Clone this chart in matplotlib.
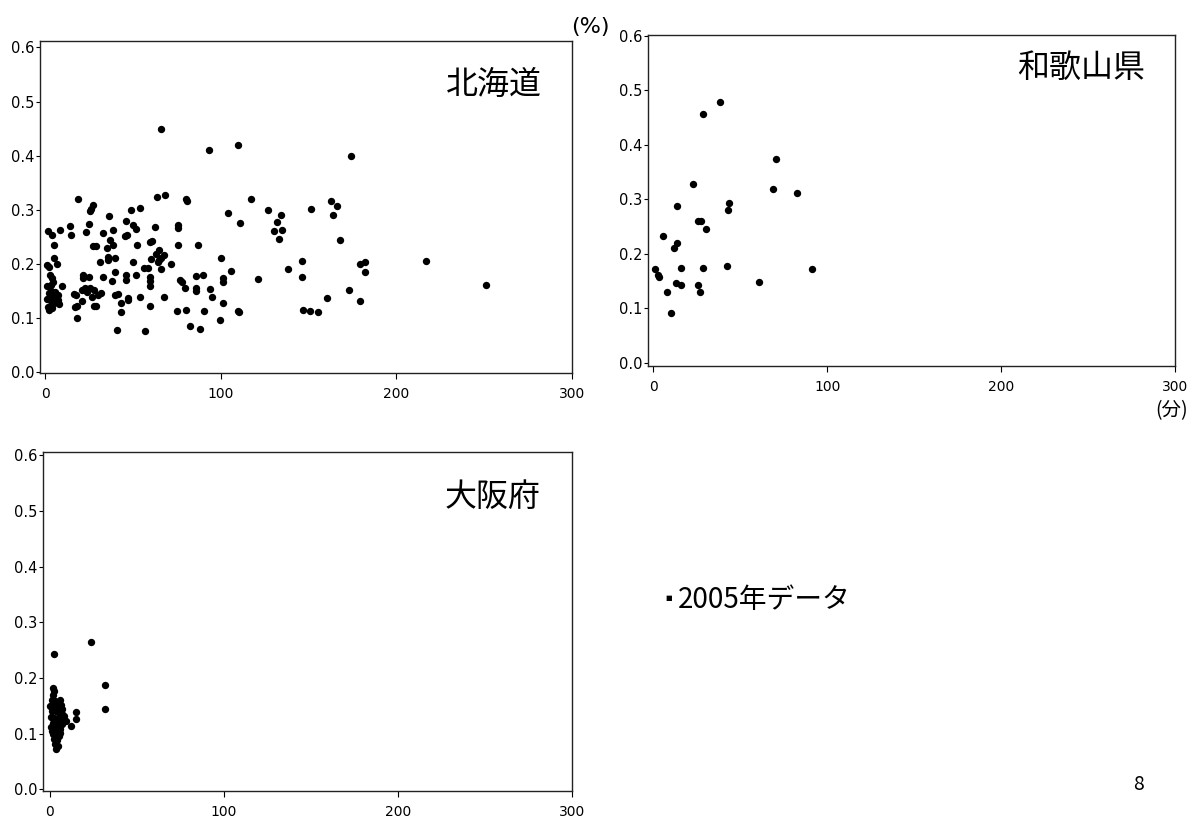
import numpy as np
import matplotlib
matplotlib.use("Agg")
import matplotlib.pyplot as plt

plt.rcParams['font.family'] = ['DejaVu Sans', 'Noto Sans CJK JP']
jp_font = ['Noto Sans CJK JP', 'DejaVu Sans']

# %% data (x: minutes, y: %)
hokkaido_x = [66, 93, 110, 18.5, 63.6, 68.3, 80, 81, 117, 127, 134, 132, 130, 135, 133,
              138.5, 121, 111, 104, 106, 100, 101, 101, 101, 99.4, 109.5, 110.5, 87, 90, 86,
              86, 86, 94, 95, 90.5, 82.6, 88, 80, 75, 79.6, 77, 78, 75.5, 75.5, 75.5,
              71.5, 67.5, 66, 65, 64.7, 64, 65.7, 63, 61, 59.8, 62.5, 60, 58.5, 56, 59.6,
              59.6, 59.6, 59.8, 57, 67.7, 54, 49, 50, 51.5, 52.5, 50, 51.5, 53.8, 46.6, 45.5,
              45.7, 45.7, 45.7, 47, 47, 43, 43, 41, 41.5, 39.6, 40, 38, 39.6, 38.3, 35,
              36.8, 38.3, 36.4, 35.7, 35.7, 32.8, 33, 31, 31.5, 30, 29, 27.7, 29, 27.4, 26.4,
              25.7, 27, 26.3, 25, 23, 24.7, 21.7, 21.3, 22.6, 21, 20.8, 24, 25.5, 27.5, 16.6,
              17.4, 18.3, 17, 18.3, 14.3, 14.7, 8.5, 9.4, 8, 1.5, 3.8, 4.7, 5, 6.8, 1.1,
              2, 2.8, 3.8, 4.3, 1, 2, 2.5, 3, 1.5, 4, 5, 4.6, 6, 7, 7.5,
              3.5, 0.8, 2.2, 5.5, 3, 174, 162.8, 166, 164, 168, 151.6, 146, 146, 216.8, 251,
              179, 182, 182, 173, 179, 160.6, 147, 151, 155.6]
hokkaido_y = [0.45, 0.41, 0.42, 0.32, 0.324, 0.327, 0.32, 0.316, 0.32, 0.30, 0.29, 0.278, 0.26, 0.262, 0.245,
              0.19, 0.172, 0.276, 0.294, 0.187, 0.21, 0.173, 0.167, 0.128, 0.096, 0.113, 0.111, 0.235, 0.179, 0.177,
              0.156, 0.150, 0.153, 0.139, 0.113, 0.085, 0.079, 0.114, 0.113, 0.156, 0.170, 0.167, 0.271, 0.266, 0.234,
              0.200, 0.216, 0.211, 0.226, 0.207, 0.203, 0.190, 0.218, 0.243, 0.240, 0.268, 0.208, 0.192, 0.192, 0.176,
              0.168, 0.158, 0.122, 0.076, 0.139, 0.303, 0.299, 0.271, 0.265, 0.234, 0.204, 0.179, 0.139, 0.254, 0.252,
              0.280, 0.179, 0.170, 0.137, 0.133, 0.127, 0.111, 0.077, 0.145, 0.143, 0.184, 0.169, 0.210, 0.234, 0.230,
              0.244, 0.262, 0.289, 0.207, 0.213, 0.256, 0.176, 0.203, 0.146, 0.142, 0.122, 0.121, 0.232, 0.232, 0.139,
              0.297, 0.309, 0.302, 0.274, 0.258, 0.176, 0.179, 0.173, 0.155, 0.152, 0.131, 0.148, 0.156, 0.152, 0.145,
              0.142, 0.122, 0.120, 0.100, 0.269, 0.254, 0.262, 0.158, 0.126, 0.260, 0.254, 0.235, 0.210, 0.200, 0.198,
              0.194, 0.179, 0.173, 0.167, 0.158, 0.146, 0.134, 0.124, 0.120, 0.118, 0.128, 0.138, 0.136, 0.133, 0.142,
              0.150, 0.135, 0.115, 0.148, 0.160, 0.40, 0.317, 0.307, 0.29, 0.244, 0.302, 0.205, 0.176, 0.206, 0.16,
              0.200, 0.204, 0.184, 0.152, 0.132, 0.136, 0.115, 0.112, 0.110]

wakayama_x = [38.5, 28.8, 70.7, 23, 68.6, 82.9, 43.8, 43, 13.5, 26, 27.2, 30.3, 5.5, 13.7,
              11.8, 0.8, 3, 3.2, 16, 28.8, 42.3, 91.2, 61, 13, 16, 25.7, 26.9, 8.2, 10]
wakayama_y = [0.478, 0.457, 0.374, 0.328, 0.319, 0.312, 0.293, 0.28, 0.287, 0.259, 0.26, 0.245, 0.232, 0.22,
              0.211, 0.171, 0.161, 0.158, 0.174, 0.174, 0.177, 0.172, 0.148, 0.146, 0.143, 0.142, 0.13, 0.13, 0.091]

osaka_x = [23.7, 2.3, 31.4, 31.4, 15, 15, 12.1, 9.2,
           1.5, 2.3, 2.0, 1.0, 3.0, 5.7, 6.5, 4.5, 7.0, 2.0, 1.0, 3.5, 5.0, 6.8, 8.0, 0.5,
           2.5, 4.2, 6.0, 1.5, 3.3, 5.2, 7.2, 0.8, 2.6, 4.3, 6.0, 1.8, 3.5, 5.0, 2.5, 4.0,
           3.0, 4.5, 3.5, 6.5, 7.5, 0.3, 1.2, 5.5]
osaka_y = [0.265, 0.244, 0.187, 0.144, 0.139, 0.126, 0.114, 0.123,
           0.182, 0.176, 0.170, 0.160, 0.158, 0.160, 0.152, 0.150, 0.145, 0.148, 0.140, 0.140, 0.138, 0.135, 0.132, 0.130,
           0.128, 0.127, 0.125, 0.120, 0.118, 0.115, 0.118, 0.112, 0.108, 0.105, 0.108, 0.100, 0.097, 0.095, 0.090, 0.088,
           0.082, 0.078, 0.072, 0.128, 0.122, 0.150, 0.105, 0.102]

x_ticks = [0, 100, 200, 300]
y_ticks = [0.0, 0.1, 0.2, 0.3, 0.4, 0.5, 0.6]

# name, x, y, frame (l, t, r, b) in px, xlim, ylim, label pos (axes frac)
panels = [
    ("北海道", hokkaido_x, hokkaido_y, (40, 41, 572, 373), (-3, 300), (-0.002, 0.612), (0.943, 0.867)),
    ("和歌山県", wakayama_x, wakayama_y, (648, 35, 1175, 366), (-3, 300), (-0.006, 0.601), (0.943, 0.90)),
    ("大阪府", osaka_x, osaka_y, (43, 452, 572, 791), (-4, 300), (-0.003, 0.606), (0.94, 0.867)),
]

W, H = 1199, 819
fig = plt.figure(figsize=(W / 100, H / 100), dpi=100)

for name, xs, ys, (l, t, r, b), xlim, ylim, (tx, ty) in panels:
    ax = fig.add_axes([l / W, 1 - b / H, (r - l) / W, (b - t) / H])
    ax.scatter(xs, ys, s=28, color='black', linewidths=0, zorder=3)
    ax.set_xlim(*xlim)
    ax.set_ylim(*ylim)
    ax.set_xticks(x_ticks)
    ax.set_yticks(y_ticks)
    ax.set_yticklabels([f"{v:.1f}" for v in y_ticks])
    ax.tick_params(axis='y', direction='out', length=3, width=0.8, pad=1, labelsize=10.5)
    ax.tick_params(axis='x', direction='out', length=4, width=0.8, pad=6, labelsize=10)
    for sp in ax.spines.values():
        sp.set_linewidth(1.0)
        sp.set_color('#222222')
    ax.text(tx, ty, name, transform=ax.transAxes, ha='right', va='center',
            fontsize=23, family=jp_font)

fig.text(571 / W, 1 - 27 / H, "(%)", fontsize=16, ha='left', va='center')
fig.text(1172 / W, 1 - 411 / H, "(分)", fontsize=14, ha='center', va='center', family=jp_font)
fig.text(669 / W, 1 - 598 / H, "■", fontsize=5, ha='center', va='center', family=['DejaVu Sans'])
fig.text(678 / W, 1 - 600 / H, "2005年データ", fontsize=20, ha='left', va='center', family=jp_font)
fig.text(1138 / W, 1 - 785 / H, "8", fontsize=14, ha='center', va='center', family=jp_font)

fig.savefig("out.png", dpi=100)
